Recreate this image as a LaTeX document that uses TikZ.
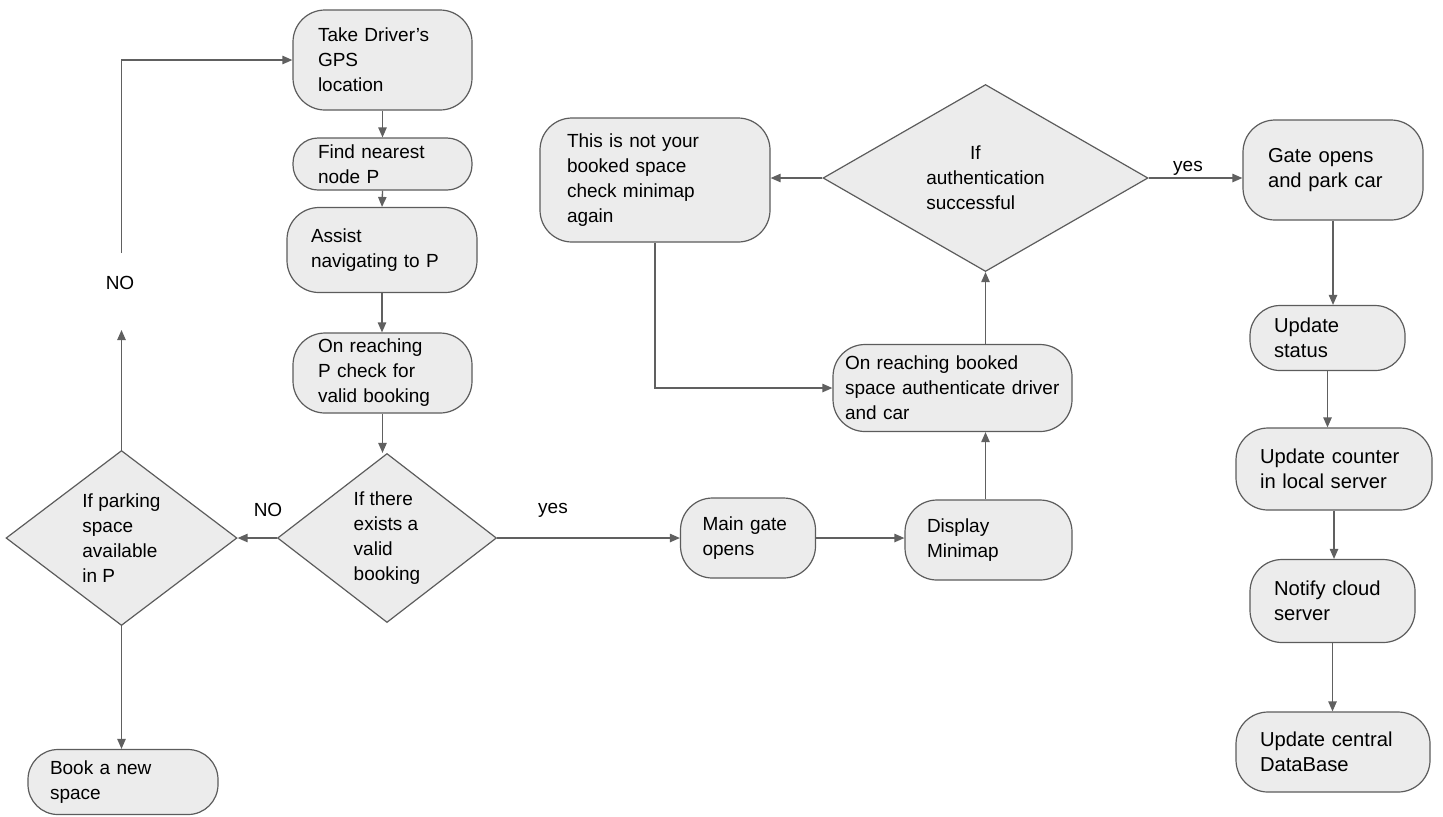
\documentclass[tikz,border=0pt]{standalone}
\usepackage{fontspec}
\setmainfont{Liberation Sans}
\usetikzlibrary{shapes.geometric,arrows.meta,calc}
\definecolor{boxc}{RGB}{236,236,236}
\definecolor{bordc}{RGB}{92,92,92}
\definecolor{arrc}{RGB}{96,96,96}
\newcommand\myfs{\fontsize{9.5}{12.5}\selectfont}
\newcommand\myfsb{\fontsize{10.1}{12.6}\selectfont}
\tikzset{
  box/.style={draw=bordc, fill=boxc, rounded corners=16pt, line width=0.6pt, align=left, inner ysep=0pt, font=\myfs},
  dia/.style={diamond, draw=bordc, fill=boxc, line width=0.6pt, align=left, inner sep=0pt, font=\myfs},
  arr/.style={draw=arrc, line width=0.65pt, -{Triangle[length=5pt,width=4.2pt]}},
  lbl/.style={font=\myfs, inner sep=0pt}
}
\begin{document}
\begin{tikzpicture}[x=0.5pt,y=-0.5pt]
\useasboundingbox (0,0) rectangle (1443,816);
% left column
\node[box, text width=64.5pt, inner xsep=12.5pt, minimum height=50pt] (gps) at (382.5,60) {Take Driver's\\GPS\\location};
\node[box, rounded corners=12.5pt, text width=64.5pt, inner xsep=12.5pt, minimum height=26pt] (find) at (382.5,164) {Find nearest\\node P};
\node[box, text width=71pt, inner xsep=12pt, minimum height=42.5pt] (assist) at (382,250) {Assist\\navigating to P};
\node[box, text width=64.5pt, inner xsep=12.5pt, minimum height=40pt] (onp) at (382.5,373) {On reaching\\P check for\\valid booking};
\node[dia, aspect=1.3, minimum width=109.5pt, minimum height=84.5pt] (d1) at (387,538) {If there\\exists a\\valid\\booking};
\node[dia, aspect=1.3, minimum width=115.5pt, minimum height=87.5pt] (d2) at (121.5,538) {If parking\\space\\available\\in P};
\node[box, rounded corners=15pt, text width=73pt, inner xsep=11pt, minimum height=32.5pt] (book) at (123,782) {Book a new\\space};
% middle
\node[box, text width=45.5pt, inner xsep=11pt, minimum height=40pt] (main) at (748,538) {Main gate\\opens};
\node[box, text width=61.5pt, inner xsep=11pt, minimum height=40pt] (disp) at (988.5,540) {Display\\Minimap};
\node[box, text width=107.5pt, inner xsep=6pt, minimum height=43.5pt] (onr) at (952.5,388) {On reaching booked\\space authenticate driver\\and car};
\node[dia, aspect=1.74, minimum width=162.5pt, minimum height=93.5pt] (d3) at (985.5,178) {\hspace*{2.3em}If\\authentication\\successful};
\node[box, text width=88pt, inner xsep=13.5pt, minimum height=62pt] (this) at (655,180) {This is not your\\booked space\\check minimap\\again};
% right column
\node[box, font=\myfsb, text width=65pt, inner xsep=12.5pt, minimum height=50pt] (gate) at (1333,170) {Gate opens\\and park car};
\node[box, font=\myfsb, rounded corners=15pt, text width=53.5pt, inner xsep=12pt, minimum height=32.5pt] (status) at (1327.5,338) {Update\\status};
\node[box, font=\myfsb, text width=74pt, inner xsep=12pt, minimum height=41pt] (counter) at (1334,469) {Update counter\\in local server};
\node[box, font=\myfsb, text width=58.5pt, inner xsep=12pt, minimum height=41.5pt] (notify) at (1332.5,601) {Notify cloud\\server};
\node[box, font=\myfsb, text width=73pt, inner xsep=12pt, minimum height=40pt] (db) at (1333,752) {Update central\\DataBase};
% labels
\node[lbl] (no1) at (120,283) {NO};
\coordinate (noB) at (121.5,330);
\coordinate (noT) at (121.5,253);
\node[lbl] (no2) at (268,510) {NO};
\node[lbl] (yes1) at (553,510) {yes};
\node[lbl] (yes2) at (1188,168) {yes};
% connectors
\draw[arr] (gps.south) -- (find.north);
\draw[arr] (find.south) -- (assist.north);
\draw[arr] (assist.south) -- (assist.south |- onp.north);
\draw[arr] (onp.south) -- (onp.south |- d1.north);
\draw[arr] (d1.west) -- (d2.east);
\draw[arr] (d2.north) -- (noB);
\draw[arr] (noT) |- (gps.west);
\draw[arr] (d2.south) -- (d2.south |- book.north);
\draw[arr] (d1.east) -- (main.west);
\draw[arr] (main.east) -- (main.east -| disp.west);
\draw[arr] (disp.north -| d3.south) -- (d3.south |- onr.south);
\draw[arr] (d3.south |- onr.north) -- (d3.south);
\draw[arr] (d3.west) -- (d3.west -| this.east);
\draw[arr] (this.south) |- (onr.west);
\draw[arr] (d3.east) -- (d3.east -| gate.west);
\draw[arr] (gate.south) -- (gate.south |- status.north);
\draw[arr] (status.south) -- (status.south |- counter.north);
\draw[arr] (counter.south) -- (counter.south |- notify.north);
\draw[arr] (notify.south) -- (notify.south |- db.north);
\end{tikzpicture}
\end{document}
